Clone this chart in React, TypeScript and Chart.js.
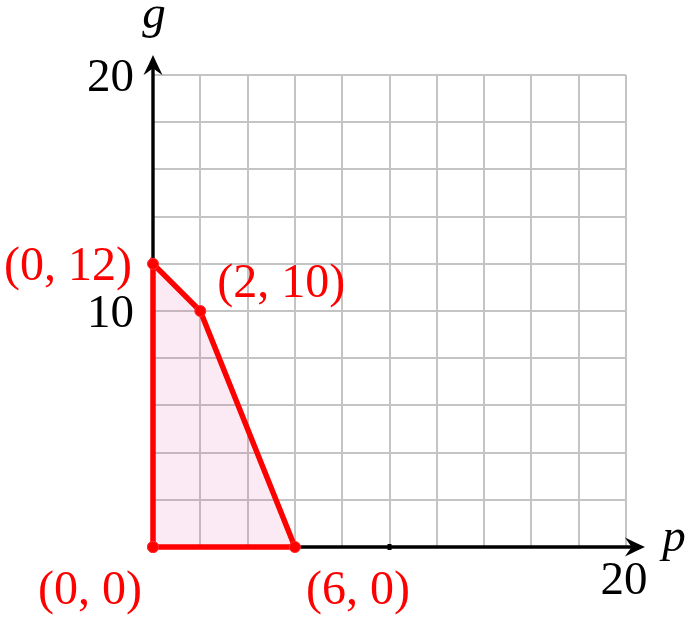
import React, { useEffect, useRef } from "react";
import { Chart, registerables } from "chart.js";

Chart.register(...registerables);

// Feasible region vertices (p, g), closed polygon
const regionP = [0, 0, 2, 6, 0];
const regionG = [0, 12, 10, 0, 0];

// Labelled vertices
const vertexP = [0, 2, 0, 6];
const vertexG = [12, 10, 0, 0];
const vertexLabels = ["(0, 12)", "(2, 10)", "(0, 0)", "(6, 0)"];

// Axis ranges / tick labels
const axisMin = 0;
const axisMax = 20;
const gridStep = 2;
const yTickLabels = [10, 20];
const xTickLabels = [20];
const xAxisTitle = "p";
const yAxisTitle = "g";

const FONT = '"Liberation Serif", "DejaVu Serif", serif';

function arrowHead(ctx: CanvasRenderingContext2D, x: number, y: number, dir: "up" | "right") {
  const map = ([u, v]: [number, number]): [number, number] =>
    dir === "up" ? [x + v, y + u] : [x - u, y + v];
  const P = (u: number, v: number) => map([u, v]);
  ctx.beginPath();
  const t = P(0, 0);
  ctx.moveTo(t[0], t[1]);
  let c = P(9, -4), p = P(20, -9.5);
  ctx.quadraticCurveTo(c[0], c[1], p[0], p[1]);
  c = P(15, -2); p = P(13, 0);
  ctx.quadraticCurveTo(c[0], c[1], p[0], p[1]);
  c = P(15, 2); p = P(20, 9.5);
  ctx.quadraticCurveTo(c[0], c[1], p[0], p[1]);
  c = P(9, 4);
  ctx.quadraticCurveTo(c[0], c[1], t[0], t[1]);
  ctx.closePath();
  ctx.fill();
}

const axesPlugin = {
  id: "axesPlugin",
  beforeDatasetsDraw(chart: any) {
    const { ctx, scales } = chart;
    const xs = scales.x;
    const ys = scales.y;
    const x0 = xs.getPixelForValue(0);
    const y0 = ys.getPixelForValue(0);
    const xEnd = xs.getPixelForValue(axisMax);
    const yEnd = ys.getPixelForValue(axisMax);
    ctx.save();
    ctx.strokeStyle = "#000";
    ctx.fillStyle = "#000";
    ctx.lineWidth = 3.4;
    // y axis
    ctx.beginPath();
    ctx.moveTo(x0, y0);
    ctx.lineTo(x0, yEnd - 12);
    ctx.stroke();
    arrowHead(ctx, x0, yEnd - 20, "up");
    // x axis
    ctx.beginPath();
    ctx.moveTo(x0, y0);
    ctx.lineTo(xEnd + 12, y0);
    ctx.stroke();
    arrowHead(ctx, xEnd + 19, y0, "right");
    // small tick at x = 10
    const xm = xs.getPixelForValue(10);
    ctx.fillRect(xm - 2, y0 - 3, 4, 6);
    ctx.restore();
  },
  afterDraw(chart: any) {
    const { ctx, scales } = chart;
    const xs = scales.x;
    const ys = scales.y;
    const x0 = xs.getPixelForValue(0);
    const y0 = ys.getPixelForValue(0);
    ctx.save();
    ctx.font = `47px ${FONT}`;
    ctx.fillStyle = "#000";
    ctx.textBaseline = "alphabetic";
    // y tick labels
    ctx.textAlign = "right";
    yTickLabels.forEach((v) => {
      ctx.fillText(String(v), x0 - 19, ys.getPixelForValue(v) + 16);
    });
    // x tick labels
    ctx.textAlign = "center";
    xTickLabels.forEach((v) => {
      ctx.fillText(String(v), xs.getPixelForValue(v) - 2, y0 + 47);
    });
    // axis titles
    ctx.font = `italic 47px ${FONT}`;
    ctx.textAlign = "center";
    ctx.fillText(yAxisTitle, x0 + 1, ys.getPixelForValue(axisMax) - 47);
    ctx.fillText(xAxisTitle, xs.getPixelForValue(axisMax) + 48, y0 + 4);
    // vertex labels
    ctx.font = `48px ${FONT}`;
    ctx.fillStyle = "#ff0000";
    const offsets: [number, number, CanvasTextAlign][] = [
      [-21, 16, "right"],
      [17, -14, "left"],
      [-63, 57, "center"],
      [63, 57, "center"],
    ];
    vertexLabels.forEach((lab, i) => {
      const px = xs.getPixelForValue(vertexP[i]);
      const py = ys.getPixelForValue(vertexG[i]);
      const [dx, dy, al] = offsets[i];
      ctx.textAlign = al;
      ctx.fillText(lab, px + dx, py + dy);
    });
    ctx.restore();
  },
};

export default function App() {
  const ref = useRef<HTMLCanvasElement>(null);
  useEffect(() => {
    if (!ref.current) return;
    const data = regionP.map((p, i) => ({ x: p, y: regionG[i] }));
    const chart = new Chart(ref.current, {
      type: "scatter",
      data: {
        datasets: [
          {
            data,
            showLine: true,
            fill: "shape",
            backgroundColor: "rgba(220, 40, 140, 0.1)",
            borderColor: "#ff0000",
            borderWidth: 5.5,
            borderJoinStyle: "miter",
            pointRadius: 5.5,
            pointBackgroundColor: "#ff0000",
            pointBorderColor: "#ff2a2a",
            pointBorderWidth: 1,
            clip: false,
          } as any,
        ],
      },
      options: {
        responsive: false,
        animation: false,
        layout: { padding: { left: 153, right: 66, top: 75, bottom: 70 } },
        plugins: { legend: { display: false }, tooltip: { enabled: false } },
        scales: {
          x: {
            type: "linear",
            min: axisMin,
            max: axisMax,
            ticks: { display: false, stepSize: gridStep },
            grid: { color: "#c4c4c4", lineWidth: 2, drawTicks: false },
            border: { display: false },
          },
          y: {
            type: "linear",
            min: axisMin,
            max: axisMax,
            ticks: { display: false, stepSize: gridStep },
            grid: { color: "#c4c4c4", lineWidth: 2, drawTicks: false },
            border: { display: false },
          },
        },
      },
      plugins: [axesPlugin],
    });
    return () => chart.destroy();
  }, []);
  return (
    <div style={{ position: "absolute", left: 0, top: 0, width: 692, height: 617, background: "#fff" }}>
      <canvas ref={ref} width={692} height={617} style={{ display: "block" }} />
    </div>
  );
}
